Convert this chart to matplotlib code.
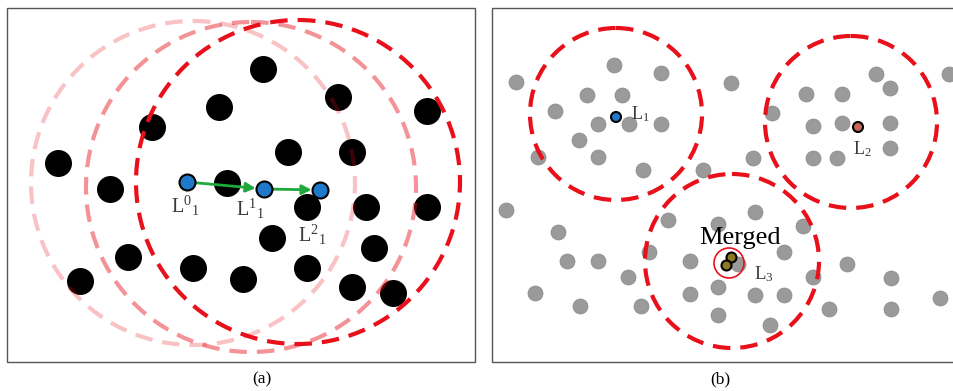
import matplotlib
matplotlib.use("Agg")
import matplotlib.pyplot as plt
from matplotlib.patches import Circle, Rectangle

W, H, DPI = 954, 391, 100

# ---------------- panel (a): mean-shift walk of one landmark ----------------
a_pts_x = [263, 338, 427, 219, 152, 288, 352, 58, 110, 227, 366, 427, 307,
           272, 374, 128, 193, 243, 307, 80, 352, 393]
a_pts_y = [69, 97, 111, 107, 127, 152, 152, 163, 189, 183, 207, 207, 207,
           238, 248, 257, 268, 279, 268, 281, 287, 293]

walk_x = [187, 264, 320]
walk_y = [182, 189, 190]
walk_labels = [r"$\mathrm{L}^{0}{}_{1}$", r"$\mathrm{L}^{1}{}_{1}$", r"$\mathrm{L}^{2}{}_{1}$"]

# search window at each iteration (oldest faintest)
a_win_x = [193, 251, 298]
a_win_y = [183, 187, 182]
a_win_r = [162, 165, 162]
a_win_alpha = [0.25, 0.45, 1.0]

# ---------------- panel (b): converged landmarks ----------------
b_pts_x = [516, 614, 661, 731, 587, 622, 555, 598, 629, 661, 579, 538, 598,
           643, 703, 753, 772, 806, 842, 876, 890, 949, 813, 842, 890, 890,
           813, 837, 506, 755, 668, 718, 803, 558, 649, 784, 567, 598, 690,
           738, 847, 628, 813, 891, 718, 535, 690, 755, 784, 940, 580, 641,
           829, 891, 718, 770]
b_pts_y = [82, 65, 73, 83, 95, 95, 111, 124, 124, 124, 140, 157, 157,
           170, 170, 158, 113, 94, 94, 74, 88, 74, 126, 123, 123, 148,
           158, 158, 210, 212, 220, 224, 226, 232, 252, 252, 261, 261, 261,
           264, 264, 277, 277, 278, 287, 293, 294, 295, 295, 298, 306, 306,
           309, 309, 315, 325]

b_win_x = [616, 851, 732]
b_win_y = [114, 122, 261]
b_win_r = [86, 86, 87]

lm_x = [616, 858]
lm_y = [117, 127]
lm_colors = ["#1f78c8", "#c8665a"]
lm_labels = [r"$\mathrm{L}_{1}$", r"$\mathrm{L}_{2}$"]

merged_x = [731, 726]
merged_y = [257, 265]
merged_label = r"$\mathrm{L}_{3}$"


def s_for_radius(r_px):
    d_pt = 2 * r_px * 72 / DPI
    return d_pt ** 2


plt.rcParams["font.family"] = ["Liberation Serif", "DejaVu Serif"]
plt.rcParams["mathtext.fontset"] = "custom"
plt.rcParams["mathtext.rm"] = "Liberation Serif"
plt.rcParams["mathtext.it"] = "Liberation Serif:italic"

fig = plt.figure(figsize=(W / DPI, H / DPI), dpi=DPI)
ax = fig.add_axes([0, 0, 1, 1])
ax.set_xlim(0, W)
ax.set_ylim(H, 0)
ax.axis("off")

RED = "#e8101a"
TXT = "#3a3a3a"

# frames
ax.add_patch(Rectangle((7, 8), 468, 354, fill=False, ec="#555555", lw=1.0, zorder=1))
ax.add_patch(Rectangle((492, 8), 480, 354, fill=False, ec="#555555", lw=1.0, zorder=1))

# ---- panel (a)
ax.scatter(a_pts_x, a_pts_y, s=s_for_radius(13.5), c="black", lw=0, zorder=2)
for cx, cy, r, al in zip(a_win_x, a_win_y, a_win_r, a_win_alpha):
    ax.add_patch(Circle((cx, cy), r, fill=False, ec=RED, alpha=al, lw=3.0,
                        ls=(0, (4.2, 2.4)), zorder=3))
for i in range(len(walk_x) - 1):
    ax.annotate("", xy=(walk_x[i + 1], walk_y[i + 1]), xytext=(walk_x[i], walk_y[i]),
                arrowprops=dict(arrowstyle="-|>", color="#1fa83c", lw=2.0,
                                shrinkA=5, shrinkB=6, mutation_scale=14),
                zorder=4)
ax.scatter(walk_x, walk_y, s=s_for_radius(8), c="#1f78c8", ec="black", lw=1.5, zorder=5)
label_off = [(-2, 24), (-14, 20), (-8, 45)]
for x, y, t, (dx, dy) in zip(walk_x, walk_y, walk_labels, label_off):
    ax.text(x + dx, y + dy, t, fontsize=14.5, color=TXT, ha="center", va="center", zorder=6)

# ---- panel (b)
ax.scatter(b_pts_x, b_pts_y, s=s_for_radius(7.5), c="#9a9a9a", ec="#888888", lw=0.5, zorder=2)
for cx, cy, r in zip(b_win_x, b_win_y, b_win_r):
    ax.add_patch(Circle((cx, cy), r, fill=False, ec=RED, lw=3.0,
                        ls=(0, (4.2, 2.4)), zorder=3))
ax.scatter(lm_x, lm_y, s=s_for_radius(5), c=lm_colors, ec="black", lw=1.5, zorder=5)
ax.text(lm_x[0] + 15, lm_y[0] - 3, lm_labels[0], fontsize=13, color=TXT,
        ha="left", va="center", zorder=6)
ax.text(lm_x[1] + 4, lm_y[1] + 22, lm_labels[1], fontsize=13, color=TXT,
        ha="center", va="center", zorder=6)

ax.scatter(merged_x, merged_y, s=s_for_radius(5), c="#8a7a22", ec="black", lw=1.5, zorder=5)
ax.add_patch(Circle((729, 263), 15, fill=False, ec=RED, lw=1.2, zorder=4))
ax.text(740, 238, "Merged", fontsize=19, color="black", ha="center", va="center", zorder=6)
ax.text(764, 274, merged_label, fontsize=13.5, color=TXT, ha="center", va="center", zorder=6)

# captions
ax.text(262, 379, "(a)", fontsize=12.5, color="black", ha="center", va="center")
ax.text(720, 379, "(b)", fontsize=12.5, color="black", ha="center", va="center")

fig.savefig("out.png", dpi=DPI)
